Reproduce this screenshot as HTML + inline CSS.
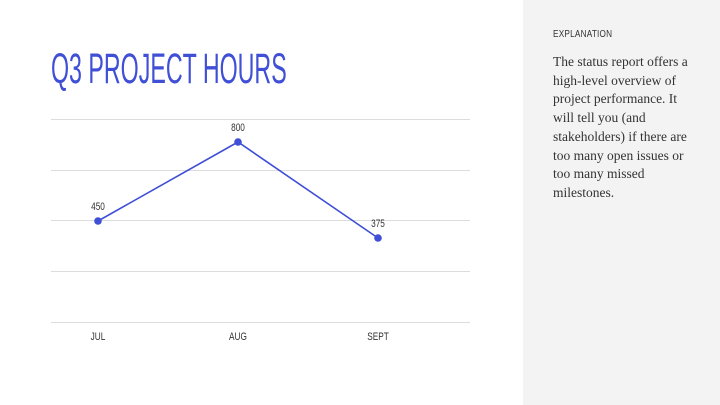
<!DOCTYPE html>
<html><head><style>
body{margin:0;width:720px;height:405px;background:#fff;position:relative;overflow:hidden;font-family:"Liberation Sans",sans-serif}
.t{position:absolute;white-space:nowrap;transform-origin:0 0}
</style></head><body>
<div class="t" style="left:51px;top:45px;font-size:43px;color:#3f4fd6;transform:scaleX(0.54);letter-spacing:0px">Q3 PROJECT HOURS</div>
<svg width="720" height="405" style="position:absolute;left:0;top:0">
<g stroke="#dcdcdc" stroke-width="1">
<line x1="51" y1="119.5" x2="470" y2="119.5"/><line x1="51" y1="170.5" x2="470" y2="170.5"/><line x1="51" y1="220.5" x2="470" y2="220.5"/><line x1="51" y1="271.5" x2="470" y2="271.5"/><line x1="51" y1="322.5" x2="470" y2="322.5"/>
</g>
<polyline points="98,221 238,142 378,238" fill="none" stroke="#3f4fd6" stroke-width="1.6"/>
<g fill="#3f4fd6"><circle cx="98" cy="221" r="3.8"/><circle cx="238" cy="142" r="3.8"/><circle cx="378" cy="238" r="3.8"/></g>
<g font-family="Liberation Sans Narrow, Liberation Sans, sans-serif" font-size="11" fill="#333" text-anchor="middle">
<text x="98" y="210" transform="translate(98 0) scale(0.75 1) translate(-98 0)">450</text>
<text x="238" y="131" transform="translate(238 0) scale(0.75 1) translate(-238 0)">800</text>
<text x="378" y="227" transform="translate(378 0) scale(0.75 1) translate(-378 0)">375</text>
<text x="98" y="340" transform="translate(98 0) scale(0.75 1) translate(-98 0)">JUL</text>
<text x="238" y="340" transform="translate(238 0) scale(0.75 1) translate(-238 0)">AUG</text>
<text x="378" y="340" transform="translate(378 0) scale(0.75 1) translate(-378 0)">SEPT</text>
</g>
</svg>
<div style="position:absolute;left:523px;top:0;width:197px;height:405px;background:#f3f3f3"></div>
<div class="t" style="left:553px;top:28px;font-size:10.5px;color:#333;transform:scaleX(0.78);letter-spacing:0.3px">EXPLANATION</div>
<div style="position:absolute;left:553px;top:53px;width:138px;font-family:'Liberation Serif',serif;font-size:13.5px;line-height:18.7px;color:#333">The status report offers a high-level overview of project performance. It will tell you (and stakeholders) if there are too many open issues or too many missed milestones.</div>
</body></html>
